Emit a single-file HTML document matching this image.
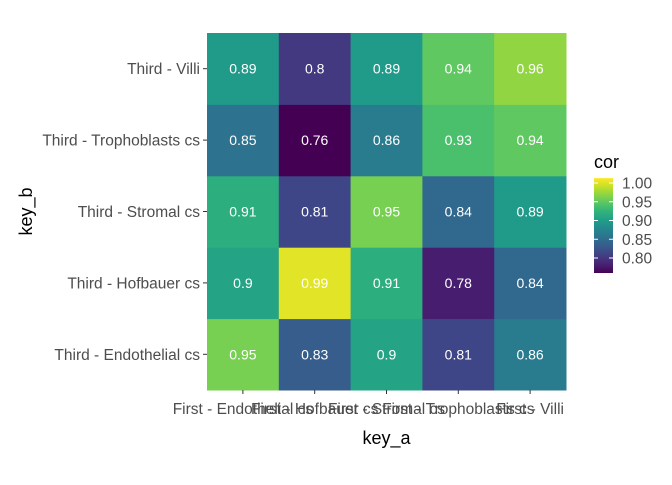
<!DOCTYPE html>
<html><head><meta charset="utf-8"><style>
body{margin:0;background:#fff;}
svg text{font-family:"Liberation Sans",Arial,sans-serif;}
</style></head><body>
<svg id="chart" width="672" height="480" xmlns="http://www.w3.org/2000/svg"></svg>
<script>
const keyA = ["First - Endothelial cs","First - Hofbauer cs","First - Stromal cs","First - Trophoblasts cs","First - Villi"];
const keyB = ["Third - Endothelial cs","Third - Hofbauer cs","Third - Stromal cs","Third - Trophoblasts cs","Third - Villi"];
// values[row b][col a]
const values = [
  [0.95,0.83,0.90,0.81,0.86],
  [0.90,0.99,0.91,0.78,0.84],
  [0.91,0.81,0.95,0.84,0.89],
  [0.85,0.76,0.86,0.93,0.94],
  [0.89,0.80,0.89,0.94,0.96]
];
const legendTicks = [0.80,0.85,0.90,0.95,1.00];

const NS="http://www.w3.org/2000/svg";
const svg=document.getElementById('chart');
function mk(t,a,txt){const e=document.createElementNS(NS,t);for(const k in a)e.setAttribute(k,a[k]);if(txt!==undefined)e.textContent=txt;svg.appendChild(e);return e;}
const vir=[[68,1,84],[72,40,120],[62,74,137],[49,104,142],[38,130,142],[31,158,137],[53,183,121],[110,206,88],[181,222,43],[253,231,37]];
function viridis(t){t=Math.max(0,Math.min(1,t));const p=t*(vir.length-1);const i=Math.min(Math.floor(p),vir.length-2);const f=p-i;
  const c=vir[i].map((v,k)=>Math.round(v+(vir[i+1][k]-v)*f));return `rgb(${c[0]},${c[1]},${c[2]})`;}
const all=values.flat();const vmin=Math.min(...all);const vmax=Math.max(Math.max(...all),1.0);
const px0=207,px1=566,py0=33,py1=390;
const cw=(px1-px0)/keyA.length, rh=(py1-py0)/keyB.length;
const xPos=i=>px0+cw*i, yPos=j=>py1-rh*(j+1);
const col=v=>viridis((v-vmin)/(vmax-vmin));

values.forEach((row,j)=>row.forEach((v,i)=>{
  const r=mk('rect',{x:xPos(i),y:yPos(j),width:cw+0.5,height:rh+0.5,fill:col(v)});
  
  
  const t=mk('text',{x:xPos(i)+cw/2,y:yPos(j)+rh/2+5,'text-anchor':'middle','font-size':14,fill:'#fff'},String(v));
  
  
}));
keyA.forEach((k,i)=>{
  const x=xPos(i)+cw/2;
  mk('line',{x1:x,x2:x,y1:py1,y2:py1+4,stroke:'#333','stroke-width':1});
  const t=mk('text',{x:x,y:py1+24,'text-anchor':'middle','font-size':15.5,fill:'#4d4d4d'},k);
  
  
});
keyB.forEach((k,j)=>{
  const y=yPos(j)+rh/2;
  mk('line',{x1:px0-4,x2:px0,y1:y,y2:y,stroke:'#333','stroke-width':1});
  const t=mk('text',{x:px0-7,y:y+5.5,'text-anchor':'end','font-size':15.5,fill:'#4d4d4d'},k);
  
  
});
const xt=mk('text',{x:(px0+px1)/2,y:444,'text-anchor':'middle','font-size':18,fill:'#000'},'key_a');

const yt=mk('text',{x:0,y:0,'text-anchor':'middle','font-size':18,fill:'#000',transform:`translate(32,${(py0+py1)/2}) rotate(-90)`},'key_b');


// legend
const lx=594,lw=19,l1=183,l080=258;
const ly=v=>l080-(v-0.80)*(l1-l080)/(0.80-1.00);
const lt=mk('text',{x:lx,y:168,'font-size':18,fill:'#000'},'cor');

const defs=mk('defs',{});
const g=document.createElementNS(NS,'linearGradient');g.setAttribute('id','lg');g.setAttribute('x1','0');g.setAttribute('y1','1');g.setAttribute('x2','0');g.setAttribute('y2','0');
for(let s=0;s<=20;s++){const st=document.createElementNS(NS,'stop');st.setAttribute('offset',s/20);st.setAttribute('stop-color',viridis(s/20));g.appendChild(st);}
defs.appendChild(g);
const lb=mk('rect',{x:lx,y:ly(1.013),width:lw,height:ly(vmin)-ly(1.013),fill:'url(#lg)'});

legendTicks.forEach(v=>{
  const y=ly(v);
  mk('line',{x1:lx,x2:lx+4,y1:y,y2:y,stroke:'#fff'});
  mk('line',{x1:lx+lw-4,x2:lx+lw,y1:y,y2:y,stroke:'#fff'});
  const t=mk('text',{x:lx+28,y:y+5.5,'font-size':15.5,fill:'#4d4d4d'},v.toFixed(2));
  
});
</script>
</body></html>
